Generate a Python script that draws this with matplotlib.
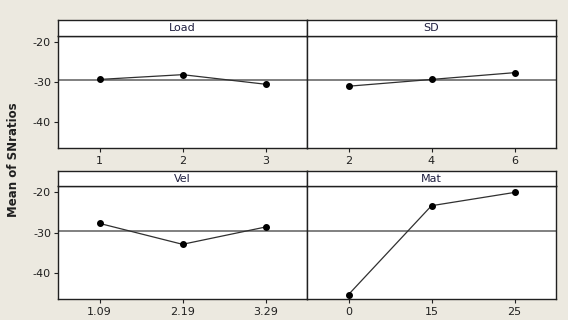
import matplotlib
matplotlib.use("Agg")
import matplotlib.pyplot as plt

factors = ["Load", "SD", "Vel", "Mat"]
levels = {
    "Load": ["1", "2", "3"],
    "SD": ["2", "4", "6"],
    "Vel": ["1.09", "2.19", "3.29"],
    "Mat": ["0", "15", "25"],
}
means = {
    "Load": [-29.3, -28.1, -30.5],
    "SD": [-31.0, -29.3, -27.6],
    "Vel": [-27.7, -32.9, -28.6],
    "Mat": [-45.4, -23.3, -20.0],
}
grand_mean = -29.5
yticks = [-20, -30, -40]

bg = "#ECE9E0"
fig = plt.figure(figsize=(5.68, 3.2), dpi=100, facecolor=bg)
plt.rcParams["font.family"] = ["DejaVu Sans"]

W = 568.0
H = 320.0
lefts = [58, 307]
width = 249
rows = [(36, 148, 20), (186, 299, 171)]  # plot top, plot bottom, strip top

for i, f in enumerate(factors):
    r, c = divmod(i, 2)
    ptop, pbot, stop = rows[r]
    x0 = lefts[c]
    ax = fig.add_axes([x0 / W, 1 - pbot / H, width / W, (pbot - ptop) / H])
    sax = fig.add_axes([x0 / W, 1 - ptop / H, width / W, (ptop - stop) / H])
    # strip
    sax.set_xticks([]); sax.set_yticks([])
    sax.set_facecolor("white")
    for s in sax.spines.values():
        s.set_color("#202020"); s.set_linewidth(1.0)
    sax.text(0.5, 0.5, f, ha="center", va="center", fontsize=8, color="#202040",
             transform=sax.transAxes)
    # plot
    xs = [1, 2, 3]
    ax.axhline(grand_mean, color="#808080", lw=1.4, zorder=1)
    ax.plot(xs, means[f], color="#303030", lw=0.9, marker="o", ms=4,
            mfc="black", mec="black", zorder=3)
    ax.set_xlim(0.5, 3.5)
    ax.set_ylim(-46.5, -18.4)
    ax.set_xticks(xs)
    ax.set_xticklabels(levels[f], fontsize=8, color="#202020")
    ax.tick_params(axis="x", length=3, width=0.8, pad=3, color="#202020")
    if c == 0:
        ax.set_yticks(yticks)
        ax.set_yticklabels([str(v) for v in yticks], fontsize=8, color="#202020")
        ax.tick_params(axis="y", length=3, width=0.8, pad=2, color="#202020")
    else:
        ax.set_yticks([])
    ax.set_facecolor("white")
    for s in ax.spines.values():
        s.set_color("#202020"); s.set_linewidth(1.0)

fig.text(14 / W, 1 - 160 / H, "Mean of SNratios", rotation=90, ha="center", va="center",
         fontsize=8.5, fontweight="bold", color="#202020")

fig.savefig("out.png", dpi=100, facecolor=bg)
